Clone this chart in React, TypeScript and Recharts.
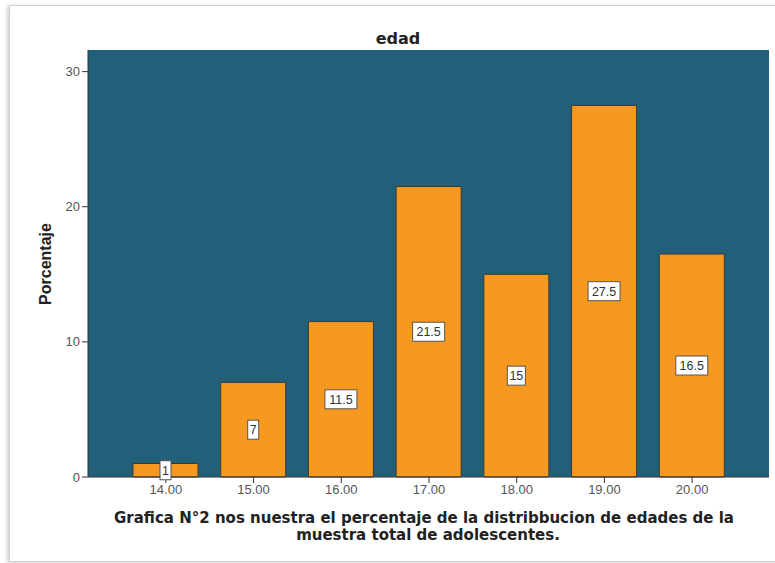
import { BarChart, Bar, XAxis, YAxis, CartesianGrid, LabelList } from 'recharts'

const edades = ['14.00', '15.00', '16.00', '17.00', '18.00', '19.00', '20.00']
const porcentajes = [1, 7, 11.5, 21.5, 15, 27.5, 16.5]
const yTicks = [0, 10, 20, 30]

const data = edades.map((edad, i) => ({ edad, porcentaje: porcentajes[i] }))

const BG = '#216078'
const BAR = '#f7991f'

function ValueBox(props: any) {
  const { x, y, width, height, value } = props
  const cx = x + width / 2
  const cy = y + height / 2
  const txt = String(value)
  const w = txt.length * 7 + 4
  return (
    <g>
      <rect x={cx - w / 2} y={cy - 9.5} width={w} height={19} fill="#fff" stroke="#555" strokeWidth={1} />
      <text
        x={cx}
        y={cy + 4.5}
        textAnchor="middle"
        fontSize={12.5}
        fontFamily="Liberation Sans, Arial, sans-serif"
        fill="#333"
      >
        {txt}
      </text>
    </g>
  )
}

export default function App() {
  return (
    <div style={{ position: 'absolute', left: 0, top: 0, width: 775, height: 563, overflow: 'hidden', background: '#fff' }}>
      {/* marco con sombra */}
      <div
        style={{
          position: 'absolute',
          left: 9,
          top: 5,
          width: 780,
          height: 555,
          border: '1px solid #cfcfcf',
          boxShadow: '-2px 1px 4px rgba(0,0,0,0.18)',
        }}
      />
      <div style={{ position: 'absolute', left: 0, top: 0 }}>
        <BarChart
          width={775}
          height={563}
          data={data}
          margin={{ top: 50, right: 6, bottom: 0, left: 0 }}
          barCategoryGap={0}
        >
          <CartesianGrid fill={BG} stroke="none" />
          <XAxis
            dataKey="edad"
            height={86}
            padding={{ left: 34, right: 33 }}
            axisLine={{ stroke: '#333' }}
            tickLine={{ stroke: '#333' }}
            tickSize={6}
            tick={{ fontSize: 13, fill: '#555', fontFamily: 'Liberation Sans, Arial, sans-serif' }}
          />
          <YAxis
            width={88}
            domain={[0, 31.6]}
            ticks={yTicks}
            axisLine={{ stroke: '#333' }}
            tickLine={{ stroke: '#333' }}
            tickSize={6}
            tick={{ fontSize: 13, fill: '#555', fontFamily: 'Liberation Sans, Arial, sans-serif' }}
          />
          <Bar dataKey="porcentaje" fill={BAR} stroke="#3a3a3a" strokeWidth={1} barSize={65} isAnimationActive={false}>
            <LabelList dataKey="porcentaje" content={<ValueBox />} />
          </Bar>
        </BarChart>
      </div>
      <svg width={775} height={563} style={{ position: 'absolute', left: 0, top: 0, pointerEvents: 'none' }}>
        <text x={398} y={44} textAnchor="middle" fontSize={16} fontWeight="bold" fontFamily="DejaVu Sans, sans-serif" fill="#222">
          edad
        </text>
        <text
          transform="translate(51, 264) rotate(-90)"
          textAnchor="middle"
          fontSize={16}
          fontWeight="bold"
          fontFamily="Liberation Sans, Arial, sans-serif"
          fill="#222"
        >
          Porcentaje
        </text>
        <text x={424} y={523} textAnchor="middle" fontSize={15} fontWeight="bold" fontFamily="DejaVu Sans, sans-serif" fill="#222">
          Grafica N°2 nos nuestra el percentaje de la distribbucion de edades de la
        </text>
        <text x={428} y={540} textAnchor="middle" fontSize={15} fontWeight="bold" fontFamily="DejaVu Sans, sans-serif" fill="#222">
          muestra total de adolescentes.
        </text>
      </svg>
    </div>
  )
}
